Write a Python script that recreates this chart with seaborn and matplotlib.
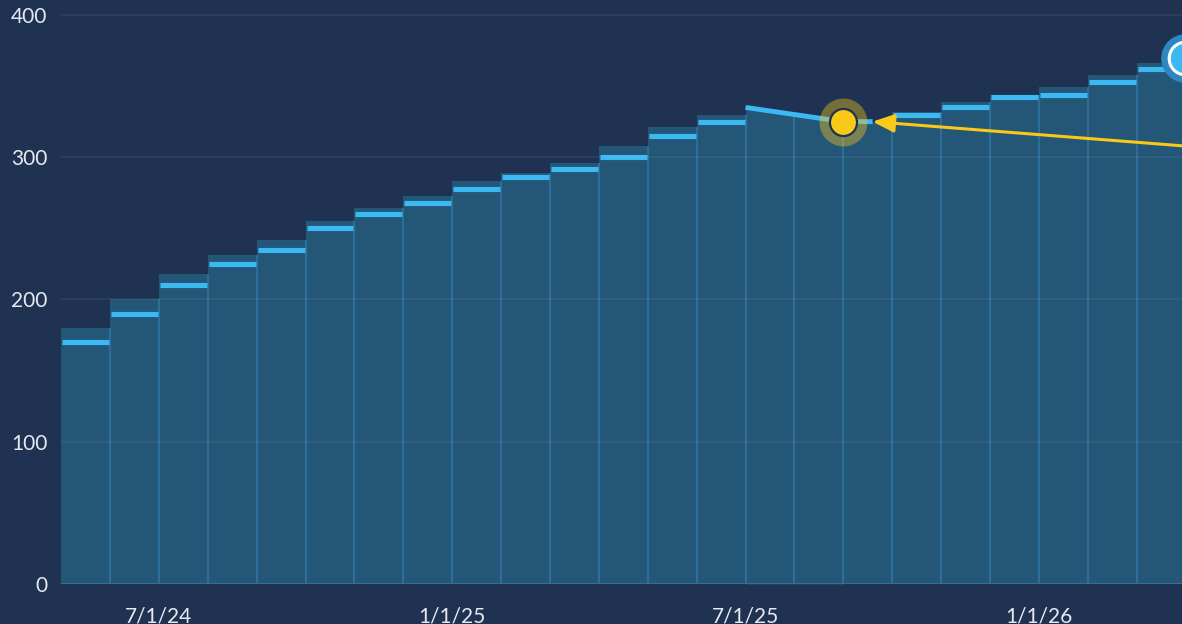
import numpy as np
import pandas as pd
import matplotlib
matplotlib.use('Agg')
import matplotlib.pyplot as plt
import seaborn as sns

# Datos
months = pd.date_range('2024-05-01', periods=23, freq='MS')
bar_top = [180, 200, 218, 231, 242, 255, 264, 273, 283, 289, 296, 308,
           321, 330, 330, 325, 325, 332, 339, 344, 349, 358, 366]
target = [170, 190, 210, 225, 235, 250, 260, 268, 278, 286, 292, 300,
          315, 325, np.nan, np.nan, np.nan, 330, 335, 342, 344, 353, 362]
trend_dates = ['2025-07-01', '2025-09-01', '2025-09-19']
trend_vals = [335, 325, 325]
proj_dates = ['2026-03-30', '2025-09-19']
proj_vals = [308, 325]
point_date, point_val = '2025-09-01', 325
now_date, now_val = '2026-04-01', 370
tick_dates = ['2024-07-01', '2025-01-01', '2025-07-01', '2026-01-01']
tick_labels = ['7/1/24', '1/1/25', '7/1/25', '1/1/26']
yticks = [0, 100, 200, 300, 400]

BG = '#1f3251'
BAR = '#245677'
EDGE = '#2d6d99'
CYAN = '#3bb9f2'
YELLOW = '#f9c919'
TXT = '#e6eaf0'


def pos(d):
    """fecha -> posicion categorica (cada mes centrado en su indice)"""
    d = pd.Timestamp(d)
    idx = (d.year - months[0].year) * 12 + d.month - months[0].month
    return idx - 0.5 + (d.day - 1) / d.days_in_month


sns.set_style('dark')
plt.rcParams['font.family'] = ['Lato', 'DejaVu Sans']

fig = plt.figure(figsize=(11.82, 6.24), dpi=100, facecolor=BG)
ax = fig.add_axes([61.2 / 1182, 40 / 624, 1 - 61.2 / 1182, 584 / 624])
ax.set_facecolor(BG)

df = pd.DataFrame({'month': months.strftime('%b %y'), 'top': bar_top})
sns.barplot(data=df, x='month', y='top', color=BAR, saturation=1, width=1,
            linewidth=0, ax=ax, zorder=2)

# tramo inclinado sobre julio-agosto
tx = [pos(d) for d in trend_dates]
ax.fill_between(tx[:2], [0, 0], trend_vals[:2], color=BAR, lw=0, zorder=2)

# separadores entre meses
for i in range(1, len(bar_top)):
    h = min(bar_top[i - 1], bar_top[i])
    if tx[0] < i - 0.5 < tx[1]:
        h = np.interp(i - 0.5, tx, trend_vals)
    ax.vlines(i - 0.5, 0, h, color=EDGE, lw=1.6, zorder=2.5)

# marcas de objetivo
for i, v in enumerate(target):
    if not np.isnan(v):
        ax.hlines(v - 1.4, i - 0.5 + 0.02, i + 0.5 - 0.02, color='#2b6d99',
                  lw=1.2, zorder=2.8)
        ax.hlines(v, i - 0.5 + 0.02, i + 0.5 - 0.02, color=CYAN, lw=3.7,
                  zorder=3)

ax.plot(tx, trend_vals, color=CYAN, lw=3.5, zorder=3, solid_capstyle='butt')

# proyeccion
px = [pos(d) for d in proj_dates]
ax.annotate('', xy=(px[1], proj_vals[1]), xytext=(px[0], proj_vals[0]),
            arrowprops=dict(arrowstyle='-|>,head_length=1.3,head_width=0.55',
                            color=YELLOW, lw=2.2, shrinkA=0, shrinkB=0,
                            mutation_scale=10),
            zorder=4)

# punto actual
ax.plot(pos(point_date), point_val, 'o', ms=34.5, color=YELLOW, alpha=0.4,
        mec='none', zorder=5)
ax.plot(pos(point_date), point_val, 'o', ms=19.5, color=YELLOW, mec=BG,
        mew=1.6, zorder=6)

# punto final
ax.plot(pos(now_date), now_val, 'o', ms=35, color='#2f87c2', mec='none',
        zorder=5, clip_on=False)
ax.plot(pos(now_date), now_val, 'o', ms=23.5, color=CYAN, mec='white',
        mew=2.2, zorder=6, clip_on=False)

ax.set_xlim(-0.5, 22.43)
ax.set_ylim(0, 410.5)
ax.set_xlabel('')
ax.set_ylabel('')
for s in ax.spines.values():
    s.set_visible(False)
ax.axhline(0, color='#3c6b93', lw=1.5, zorder=3)
for y in yticks[1:]:
    ax.axhline(y, color='white', alpha=0.06, lw=1.3, zorder=3.5)
ax.grid(False)

ax.set_yticks(yticks)
ax.set_yticklabels([str(y) for y in yticks])
ax.set_xticks([pos(d) for d in tick_dates])
ax.set_xticklabels(tick_labels)
ax.tick_params(axis='y', length=0, pad=10, labelsize=15, labelcolor=TXT)
ax.tick_params(axis='x', length=8, width=1.5, color='#3a5577', pad=8,
               labelsize=15, labelcolor=TXT)

fig.savefig('out.png', dpi=100, facecolor=BG)
